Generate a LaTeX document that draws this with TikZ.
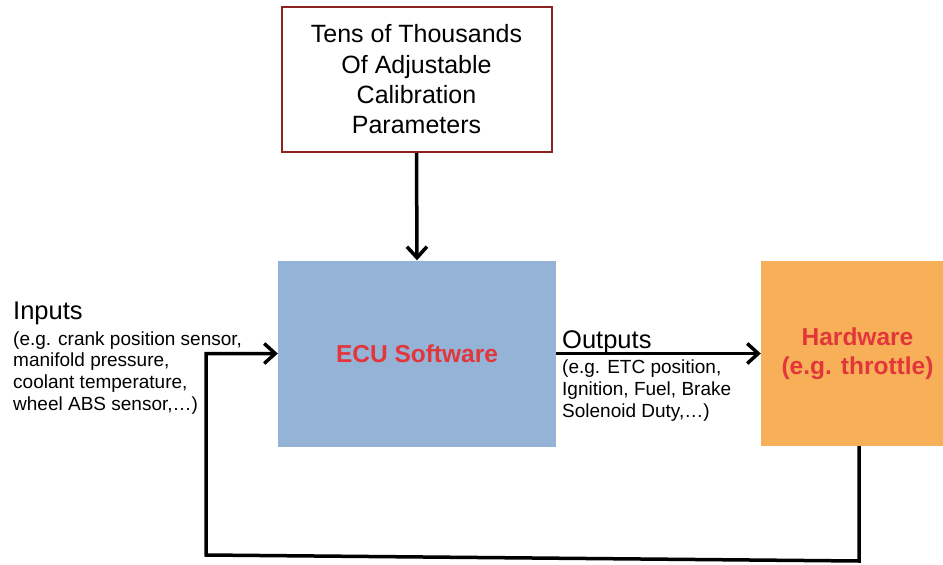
\documentclass[tikz,border=0pt]{standalone}
\usepackage{fontspec}
\setmainfont{Liberation Sans}
\usetikzlibrary{arrows.meta}
\definecolor{ecublue}{HTML}{95B3D7}
\definecolor{hworange}{HTML}{F7AF58}
\definecolor{txtred}{HTML}{E2363B}
\definecolor{boxred}{HTML}{8C2222}
\tikzset{
  parambox/.style={draw=boxred, line width=2pt, fill=white, minimum width=270pt, minimum height=145pt,
    align=center, inner sep=0pt, font=\fontsize{25}{30.3}\selectfont},
  ecubox/.style={fill=ecublue, minimum width=278pt, minimum height=186pt, inner sep=0pt,
    font=\fontsize{24.5}{29}\selectfont\bfseries, text=txtred, align=center},
  hwbox/.style={fill=hworange, minimum width=193pt, minimum height=185pt, inner sep=0pt,
    font=\fontsize{24.5}{29}\selectfont\bfseries, text=txtred, align=center},
  bigtxt/.style={inner sep=0pt, anchor=base west, font=\fontsize{25.5}{30}\selectfont},
  smalltxt/.style={inner sep=0pt, anchor=base west, align=left, font=\fontsize{19}{21.8}\selectfont},
  flow/.style={line width=3.5pt, -{Straight Barb[length=11pt,width=20pt]}}
}
\begin{document}
\begin{tikzpicture}[x=1pt,y=-1pt]
\path[use as bounding box] (0,0) rectangle (943,565);
\node[parambox] (params) at (416.5,79.5) {Tens of Thousands\\Of Adjustable\\Calibration\\Parameters};
\node[ecubox] (ecu) at (417,353.5) {ECU Software};
\node[hwbox] (hw) at (857.5,353.5) {Hardware\\(e.g. throttle)};
\node[bigtxt] (inlbl) at (13,319) {Inputs};
\node[smalltxt] (insub) at (13,410.4) {(e.g. crank position sensor,\\manifold pressure,\\coolant temperature,\\wheel ABS sensor,…)};
\node[bigtxt] (outlbl) at (562,348) {Outputs};
\node[smalltxt] (outsub) at (562,417) {(e.g. ETC position,\\Ignition, Fuel, Brake\\Solenoid Duty,…)};
\coordinate (fbR) at (859,561);
\coordinate (fbL) at (206,555);
\draw[flow] (params.south) -- (ecu.north);
\draw[flow] (ecu.east) -- (hw.west);
\draw[flow] (hw.south -| fbR) -- (fbR) -- (fbL) -- (fbL |- ecu.west) -- (ecu.west);
\end{tikzpicture}
\end{document}
